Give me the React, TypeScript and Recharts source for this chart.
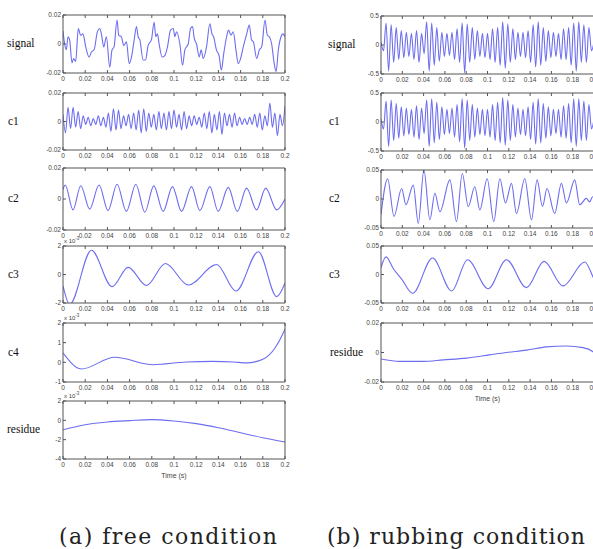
import { LineChart, Line, XAxis, YAxis } from "recharts";

// time axis in ms, labelled in seconds
const timeTicks = [0, 20, 40, 60, 80, 100, 120, 140, 160, 180, 200];

// ---- (a) free condition ----
// signal / c1 / c2 in units of 1e-3
const freeSignalT = [0, 1.5, 3, 4.5, 6, 8.1, 9.6, 11.4, 13.8, 15.9, 18, 20.5, 23.5, 25.6, 28, 31, 33.1, 34.6, 36.7, 39.1, 42.1, 44.2, 46, 48.7, 50.2, 52.6, 54.7, 57.2, 59.6, 61.7, 64.1, 66.2, 67.7, 69.2, 72.2, 74.3, 76.7, 79.7, 82.1, 83.6, 85.1, 86.6, 89.3, 91.7, 94.1, 96.9, 99.3, 100.8, 102.3, 105.3, 107.7, 109.8, 112.8, 114.9, 116.7, 118.2, 120.3, 122.7, 124.5, 126.3, 129.3, 132.3, 134.2, 135.7, 138.2, 140.6, 142.7, 144.8, 147.4, 149.2, 151.3, 153.4, 155.8, 157.9, 160, 162.4, 165.5, 167.8, 169.9, 171.5, 174.5, 176.9, 179, 182, 184.1, 185.9, 188, 190.1, 192, 194, 196.4, 198, 200];
const freeSignalV = [9, 0, -4, 5, 2.7, -13, -10, -12, 10.7, 6, 7, -2, -9, -5.5, -4, 8.5, 10.7, 7, -2, 5, -16, -4, -2, 16.5, 6, 5, -1, 1.5, -13.5, -9, 2.7, 12, 5, 3, -11, -11, -1, 3, 15, 5, 7, 0, -9, -8, -2, 9.6, 10.7, 5, 8.5, 0, -14.7, -4, 0, 10.7, 12, 4, 0, -9, -4, -10, -2, 14, 7, 5, -4, -8, -18, -6.6, 5, 9.6, 6, 8.5, -4, -13.5, -10, -2, 7, 13, 2.7, 1.5, -10, -4, -2, 16.5, 6, 5, 0, -12.5, -19, -4, 5, 7, 5];

const freeC1V = [5, -8, 10, -5, 10, -4, 7, -5, 4, -2, 3, -3, 2, -2, 4, -3, 3, -4, 6, -7, 9, -6, 8, -5, 4, -3, 5, -5, 6, -6, 8, -8, 9, -7, 6, -4, 5, -6, 7, -5, 6, -6, 7, -5, 8, -4, 5, -6, 7, -5, 4, -3, 4, -2, 3, -4, 6, -5, 7, -8, 5, -6, 7, -9, 6, -3, 5, -4, 6, -3, 3, -2, 2, -2, 3, -2, 5, -4, 6, -6, 4, -3, 13, -4, 6, -10, 5, -3, 11];

const freeC2T = [0, 2, 9, 16, 24, 32.5, 40.6, 48.7, 57.1, 65.6, 73.7, 81.8, 90.2, 98.6, 106.8, 115.8, 123.3, 132.3, 139.8, 148.9, 157, 165.4, 174.4, 182.6, 192.5, 200];
const freeC2V = [6, 9, -7, 8.5, -6.5, 9, -7.5, 9.5, -8, 9.5, -8.5, 8.5, -8, 8, -8, 8, -7.5, 8, -8, 7.5, -8, 7, -7, 7, -7, 0];

// c3 / c4 / residue in units of 1e-3 (axis shows x10^-3)
const freeC3T = [0, 6, 25.6, 44.2, 58.7, 75.2, 92.3, 112.8, 138.4, 155.8, 176, 192.5, 200];
const freeC3V = [-0.8, -2.1, 1.7, -0.85, 0.5, -0.77, 0.77, -0.74, 0.7, -1.16, 1.6, -1.55, -0.6];

const freeC4T = [0, 16.5, 46.6, 81, 111, 135, 153.4, 165.4, 180.5, 191, 198.5, 200];
const freeC4V = [0.48, -0.34, 0.26, -0.12, 0.02, 0.05, 0.02, -0.03, 0.17, 0.73, 1.5, 1.7];

const freeResT = [0, 20, 40, 60, 80, 100, 120, 140, 160, 180, 200];
const freeResV = [-0.97, -0.45, -0.17, -0.03, 0.07, -0.07, -0.34, -0.76, -1.28, -1.8, -2.24];

// ---- (b) rubbing condition ----
const rubSignalV = [0.05, -0.1, 0.38, -0.45, 0.35, -0.3, 0.3, -0.25, 0.25, -0.22, 0.22, -0.2, 0.2, -0.25, 0.25, -0.3, 0.2, -0.15, 0.4, -0.45, 0.38, -0.35, 0.3, -0.28, 0.22, -0.2, 0.2, -0.18, 0.22, -0.25, 0.28, -0.3, 0.38, -0.48, 0.36, -0.3, 0.3, -0.25, 0.25, -0.2, 0.2, -0.22, 0.2, -0.25, 0.28, -0.3, 0.3, -0.35, 0.4, -0.4, 0.36, -0.3, 0.28, -0.25, 0.22, -0.2, 0.22, -0.22, 0.25, -0.3, 0.35, -0.38, 0.4, -0.35, 0.3, -0.28, 0.25, -0.22, 0.22, -0.2, 0.2, -0.25, 0.28, -0.25, 0.3, -0.35, 0.38, -0.45, 0.4, -0.3, 0.35, -0.3, 0.3, -0.1, 0.05];

const rubC1V = [0.05, -0.12, 0.36, -0.42, 0.38, -0.32, 0.32, -0.28, 0.26, -0.24, 0.24, -0.22, 0.22, -0.26, 0.28, -0.3, 0.24, -0.2, 0.38, -0.42, 0.4, -0.36, 0.34, -0.3, 0.26, -0.22, 0.22, -0.2, 0.24, -0.26, 0.3, -0.34, 0.4, -0.45, 0.38, -0.32, 0.3, -0.26, 0.24, -0.22, 0.22, -0.24, 0.22, -0.26, 0.3, -0.32, 0.34, -0.36, 0.42, -0.4, 0.38, -0.32, 0.3, -0.26, 0.24, -0.22, 0.22, -0.24, 0.26, -0.3, 0.34, -0.38, 0.4, -0.36, 0.32, -0.28, 0.26, -0.24, 0.22, -0.2, 0.22, -0.26, 0.28, -0.28, 0.32, -0.36, 0.4, -0.42, 0.4, -0.32, 0.36, -0.32, 0.3, -0.12, 0.05];

const rubC2T = [0, 6.25, 12.2, 19.4, 23.4, 30.3, 35, 40.3, 45.9, 50.6, 55.3, 64.7, 70.9, 76.3, 81.9, 88.1, 92.8, 99.7, 105.9, 111.6, 116.9, 122.5, 127.2, 135, 141.3, 146.6, 151.6, 155.9, 163.1, 169.4, 174.1, 181.9, 186.6, 192.8, 195.9, 198.75, 200];
const rubC2V = [-0.027, 0.035, -0.03, 0.018, -0.01, 0.024, -0.042, 0.05, -0.036, 0.01, -0.022, 0.033, -0.039, 0.044, -0.013, 0.021, -0.019, 0.035, -0.039, 0.035, -0.007, 0.027, -0.025, 0.035, -0.036, 0.033, -0.013, 0.018, -0.025, 0.027, -0.007, 0.033, -0.01, 0.001, -0.005, 0.004, 0.002];

const rubC3T = [0, 4.7, 11.6, 19.4, 29.7, 48.4, 66.3, 81.3, 100.6, 117.8, 136.6, 153.1, 170.9, 191.3, 198.75, 200];
const rubC3V = [0.012, 0.031, 0.01, -0.008, -0.033, 0.029, -0.029, 0.026, -0.025, 0.026, -0.023, 0.023, -0.02, 0.022, -0.003, -0.008];

const rubResT = [0, 17.8, 39.7, 58.4, 80.3, 102, 117.8, 136.6, 155.3, 174, 189.7, 198.75, 200];
const rubResV = [-0.0044, -0.006, -0.006, -0.005, -0.0038, -0.0016, 0, 0.0016, 0.0038, 0.0044, 0.0033, 0.0007, 0];

const pts = (t: number[], v: number[]) => v.map((y, i) => ({ t: t[i], v: y }));
const even = (v: number[]) => v.map((y, i) => ({ t: (200 * i) / (v.length - 1), v: y }));

const LINE = "#6d6df0";
const FRAME = "#555";
const SANS = "'Liberation Sans', Arial, sans-serif";
const SERIF = "'Liberation Serif', 'Times New Roman', serif";
const tickFont = { fontSize: 6.5, fill: "#444", fontFamily: SANS };
const milli = (v: number) => String(v / 1000);
const plain = (v: number) => String(v);
const blank = () => "";

type PanelProps = {
  x: number;
  y: number;
  w: number;
  h: number;
  data: { t: number; v: number }[];
  domain: [number, number];
  ticks: number[];
  fmt: (v: number) => string;
  name: string;
  nameX: number;
  exp?: boolean;
  time?: boolean;
};

function Panel({ x, y, w, h, data, domain, ticks, fmt, name, nameX, exp, time }: PanelProps) {
  return (
    <>
      <div style={{ position: "absolute", left: x - 40, top: y - 8 }}>
        <LineChart width={w + 50} height={h + 24} data={data} margin={{ top: 7, right: 9, bottom: 0, left: 0 }}>
          <XAxis
            xAxisId="b"
            dataKey="t"
            type="number"
            domain={[0, 200]}
            ticks={timeTicks}
            interval={0}
            tickFormatter={milli}
            tickSize={-3}
            tickMargin={6}
            height={16}
            tick={tickFont}
            axisLine={{ stroke: FRAME }}
            tickLine={{ stroke: FRAME }}
            allowDataOverflow
          />
          <XAxis
            xAxisId="top"
            orientation="top"
            dataKey="t"
            type="number"
            domain={[0, 200]}
            ticks={timeTicks}
            interval={0}
            tickFormatter={blank}
            tickSize={-3}
            height={1}
            axisLine={{ stroke: FRAME }}
            tickLine={{ stroke: FRAME }}
          />
          <YAxis
            yAxisId="l"
            type="number"
            domain={domain}
            ticks={ticks}
            interval={0}
            tickFormatter={fmt}
            tickSize={-3}
            tickMargin={5}
            width={40}
            tick={tickFont}
            axisLine={{ stroke: FRAME }}
            tickLine={{ stroke: FRAME }}
            allowDataOverflow
          />
          <YAxis
            yAxisId="r"
            orientation="right"
            type="number"
            domain={domain}
            ticks={ticks}
            interval={0}
            tickFormatter={blank}
            tickSize={-3}
            width={1}
            axisLine={{ stroke: FRAME }}
            tickLine={{ stroke: FRAME }}
          />
          <Line
            xAxisId="b"
            yAxisId="l"
            dataKey="v"
            type="monotone"
            stroke={LINE}
            strokeWidth={1.1}
            dot={false}
            isAnimationActive={false}
          />
        </LineChart>
      </div>
      <div
        style={{
          position: "absolute",
          left: nameX,
          top: y + h / 2 - 8,
          fontFamily: SERIF,
          fontSize: 11.5,
          color: "#111",
          lineHeight: "14px",
        }}
      >
        {name}
      </div>
      {exp && (
        <div
          style={{
            position: "absolute",
            left: x + 1,
            top: y - 11,
            fontFamily: SANS,
            fontSize: 6,
            color: "#444",
            lineHeight: "8px",
            whiteSpace: "nowrap",
          }}
        >
          x 10<sup style={{ fontSize: 4.5 }}>-3</sup>
        </div>
      )}
      {time && (
        <div
          style={{
            position: "absolute",
            left: x + w / 2 - 20,
            width: 40,
            textAlign: "center",
            top: y + h + 13,
            fontFamily: SANS,
            fontSize: 7,
            color: "#444",
          }}
        >
          Time (s)
        </div>
      )}
    </>
  );
}

export default function App() {
  const LX = 63;
  const LW = 222;
  const RX = 381;
  const RW = 213;
  return (
    <div style={{ position: "absolute", left: 0, top: 0, width: 593, height: 549, overflow: "hidden", background: "#fff" }}>
      <Panel x={LX} y={15} w={LW} h={58} data={pts(freeSignalT, freeSignalV)} domain={[-20, 20]} ticks={[-20, 0, 20]} fmt={milli} name="signal" nameX={7} />
      <Panel x={LX} y={93} w={LW} h={57} data={even(freeC1V)} domain={[-20, 20]} ticks={[-20, 0, 20]} fmt={milli} name="c1" nameX={8} />
      <Panel x={LX} y={168} w={LW} h={62} data={pts(freeC2T, freeC2V)} domain={[-20, 20]} ticks={[-20, 0, 20]} fmt={milli} name="c2" nameX={8} />
      <Panel x={LX} y={246} w={LW} h={57} data={pts(freeC3T, freeC3V)} domain={[-2, 2]} ticks={[-2, 0, 2]} fmt={plain} name="c3" nameX={8} exp />
      <Panel x={LX} y={323} w={LW} h={59} data={pts(freeC4T, freeC4V)} domain={[-1, 2]} ticks={[-1, 0, 1, 2]} fmt={plain} name="c4" nameX={8} exp />
      <Panel x={LX} y={401} w={LW} h={58} data={pts(freeResT, freeResV)} domain={[-4, 2]} ticks={[-4, -2, 0, 2]} fmt={plain} name="residue" nameX={7} exp time />

      <Panel x={RX} y={16} w={RW} h={58} data={even(rubSignalV)} domain={[-0.5, 0.5]} ticks={[-0.5, 0, 0.5]} fmt={plain} name="signal" nameX={328} />
      <Panel x={RX} y={93} w={RW} h={58} data={even(rubC1V)} domain={[-0.5, 0.5]} ticks={[-0.5, 0, 0.5]} fmt={plain} name="c1" nameX={329} />
      <Panel x={RX} y={170} w={RW} h={58} data={pts(rubC2T, rubC2V)} domain={[-0.05, 0.05]} ticks={[-0.05, 0, 0.05]} fmt={plain} name="c2" nameX={329} />
      <Panel x={RX} y={246} w={RW} h={57} data={pts(rubC3T, rubC3V)} domain={[-0.05, 0.05]} ticks={[-0.05, 0, 0.05]} fmt={plain} name="c3" nameX={329} />
      <Panel x={RX} y={323} w={RW} h={59} data={pts(rubResT, rubResV)} domain={[-0.02, 0.02]} ticks={[-0.02, 0, 0.02]} fmt={plain} name="residue" nameX={330} time />

      <svg width={593} height={40} style={{ position: "absolute", left: 0, top: 510 }}>
        <text x={59} y={34} fontFamily="'DejaVu Serif', serif" fontSize={22} fill="#222" textLength={218} lengthAdjust="spacing">
          (a) free condition
        </text>
        <text x={327} y={34} fontFamily="'DejaVu Serif', serif" fontSize={22} fill="#222" textLength={258} lengthAdjust="spacing">
          (b) rubbing condition
        </text>
      </svg>
    </div>
  );
}
